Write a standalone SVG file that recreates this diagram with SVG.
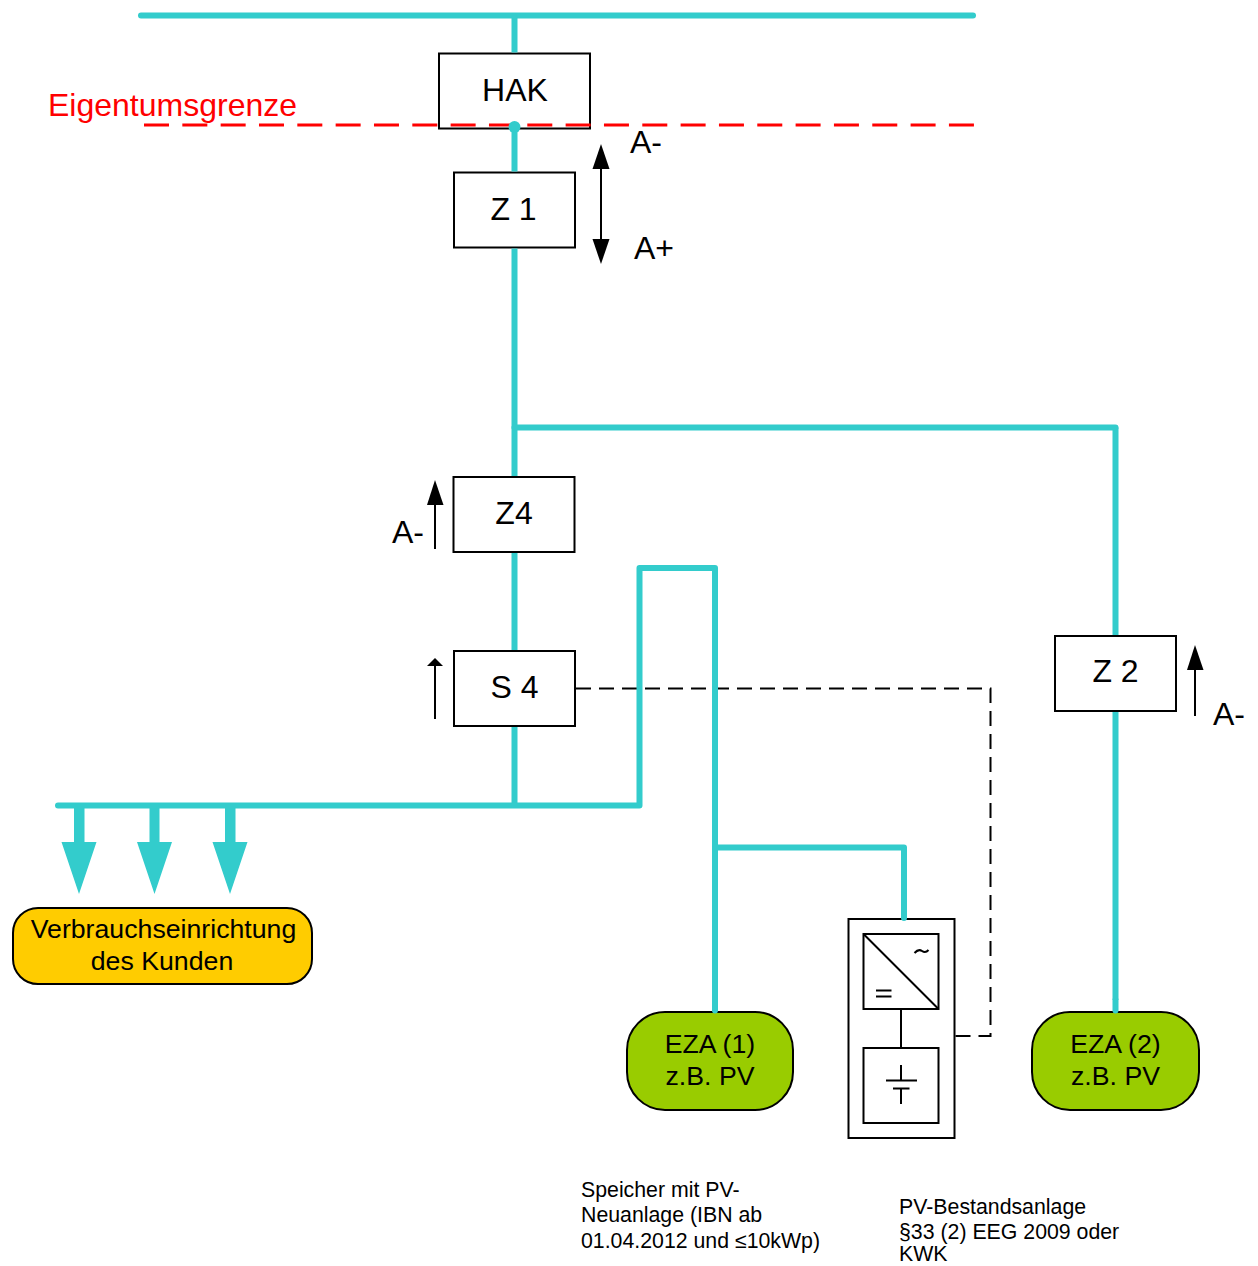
<svg xmlns="http://www.w3.org/2000/svg" width="1258" height="1266" viewBox="0 0 1258 1266">
<style>
text{font-family:"Liberation Sans",Arial,sans-serif;fill:#000}
.t32{font-size:32px;text-anchor:middle}
.t27{font-size:26.7px;text-anchor:middle}
.t32s{font-size:32px}
.small{font-size:21.3px}
.box{fill:#fff;stroke:#000;stroke-width:2}
.bus{fill:none;stroke:#33cccc;stroke-width:6;stroke-linecap:round;stroke-linejoin:round}
.seg{fill:none;stroke:#33cccc;stroke-width:6}
.wire{fill:none;stroke:#000;stroke-width:2}
.dash{fill:none;stroke:#000;stroke-width:2;stroke-dasharray:15 8}
.ah{fill:#000;stroke:none}
.ca{fill:#33cccc;stroke:none}
.eza{fill:#99cc00;stroke:#000;stroke-width:2}
</style>
<g id="hak"><rect class="box" x="439" y="53.500" width="151" height="75"/><text class="t32" x="515" y="100.500">HAK</text></g>
<g id="z1"><rect class="box" x="454" y="172.500" width="121" height="75"/><text class="t32" x="513.500" y="220">Z 1</text></g>
<g id="z1-flow">
<path class="wire" d="M601 165V243"/>
<path class="ah" d="M601 144L609.500 169H592.500Z"/>
<path class="ah" d="M601 264L592.500 239H609.500Z"/>
<text class="t32s" x="630" y="153">A-</text>
<text class="t32s" x="634" y="259">A+</text>
</g>
<g id="z4"><rect class="box" x="453.500" y="477" width="121" height="75"/><text class="t32" x="514" y="523.500">Z4</text></g>
<g id="z4-flow">
<path class="wire" d="M435 500V549"/>
<path class="ah" d="M435 480L443.500 505H427Z"/>
<text class="t32s" x="392" y="542.500">A-</text>
</g>
<g id="s4"><rect class="box" x="454" y="651" width="121" height="75"/><text class="t32" x="514.500" y="697.500">S 4</text></g>
<g id="s4-flow">
<path class="wire" d="M435 665V719"/>
<path class="ah" d="M435 658L443 666H427Z"/>
</g>
<g id="z2"><rect class="box" x="1055" y="636" width="121" height="75"/><text class="t32" x="1115.500" y="682">Z 2</text></g>
<g id="z2-flow">
<path class="wire" d="M1195 665V716"/>
<path class="ah" d="M1195 645L1203.500 670H1187Z"/>
<text class="t32s" x="1213" y="724.500">A-</text>
</g>
<g id="verbraucher">
<rect x="13" y="908" width="299" height="76" rx="25" fill="#ffcc00" stroke="#000" stroke-width="2"/>
<text class="t27" x="163.500" y="938">Verbrauchseinrichtung</text>
<text class="t27" x="162" y="970">des Kunden</text>
</g>
<g id="eza1">
<rect class="eza" x="627" y="1012" width="166" height="98" rx="38"/>
<text class="t27" x="710" y="1053">EZA (1)</text>
<text class="t27" x="710" y="1085">z.B. PV</text>
</g>
<g id="eza2">
<rect class="eza" x="1032" y="1012" width="167" height="98" rx="38"/>
<text class="t27" x="1115.500" y="1053">EZA (2)</text>
<text class="t27" x="1115.500" y="1085">z.B. PV</text>
</g>
<g id="speicher">
<rect class="box" x="848.500" y="919" width="106" height="219"/>
<rect class="box" x="863.500" y="934" width="75" height="75"/>
<path class="wire" d="M863.500 934L938.500 1009"/>
<path class="wire" d="M901 1009V1048"/>
<rect class="box" x="863.500" y="1048" width="75" height="75"/>
<path class="wire" d="M886 1080.500H917M893 1088.500H909.500M901 1065V1080.500M901 1088.500V1104"/>
<path class="wire" d="M876 990.500H891.500M876 996.500H891.500"/>
<path d="M914.500 953Q918.500 948.500 922 951T928.500 950" fill="none" stroke="#000" stroke-width="2"/>
</g>
<g id="connectors">
<path class="dash" d="M576 688.500H990.500V1036H955"/>
<path class="bus" d="M141 15.500H973"/>
<path class="seg" d="M514.500 15.500V52.500M514.500 129V171.500M514.500 248.500V476M514.500 553V650M514.500 727V805.500"/>
<path class="seg" d="M1115.500 427.500V635M1115.500 712V1000"/>
<path class="bus" d="M514.500 427.500H1115.500M1115.500 1000V1010.500"/>
<path class="bus" d="M58 805.500H639.500V568H715V1010.500"/>
<path class="bus" d="M715 847.500H904V918"/>
<g id="load-arrows">
<path class="ca" d="M74 806H84.500V842H96.500L79 894L61.500 842H74Z"/>
<path class="ca" d="M149.500 806H159.500V842H172L154.500 894L137 842H149.500Z"/>
<path class="ca" d="M225 806H235.500V842H247.500L230 894L212.500 842H225Z"/>
</g>
</g>
<g id="boundary">
<path fill="none" stroke="#ff0000" stroke-width="3" stroke-dasharray="25 13.330" d="M144 125H975"/>
<circle cx="514.500" cy="127" r="6" fill="#33cccc"/>
<text x="48" y="116" font-size="32" style="fill:#ff0000">Eigentumsgrenze</text>
</g>
<g id="notes">
<text class="small" x="581" y="1197">Speicher mit PV-</text>
<text class="small" x="581" y="1222">Neuanlage (IBN ab</text>
<text class="small" x="581" y="1248">01.04.2012 und ≤10kWp)</text>
<text class="small" x="899" y="1214">PV-Bestandsanlage</text>
<text class="small" x="899" y="1239">§33 (2) EEG 2009 oder</text>
<text class="small" x="899" y="1261">KWK</text>
</g>
</svg>
